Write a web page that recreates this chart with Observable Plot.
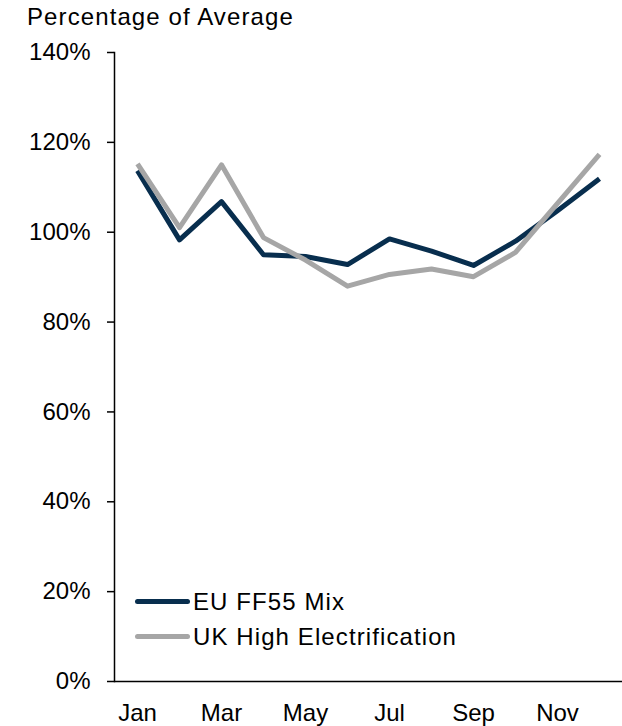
<!DOCTYPE html>
<html><head><meta charset="utf-8">
<script src="https://cdn.jsdelivr.net/npm/d3@7"></script>
<script src="https://cdn.jsdelivr.net/npm/@observablehq/plot@0.6"></script>
<style>
body{margin:0;background:#fff;font-family:"Liberation Sans",Arial,sans-serif;}
#wrap{position:relative;width:622px;height:726px;}
#title{position:absolute;left:27px;top:3px;font-size:24px;letter-spacing:1.1px;color:#000;}
#chart{position:absolute;left:0;top:36px;}
#legend{position:absolute;left:135px;top:584px;font-size:24px;letter-spacing:1.1px;color:#000;}
.row{display:flex;align-items:center;height:35px;}
.sw{width:55px;height:5px;border-radius:3px;margin-right:3px;}
</style></head>
<body><div id="wrap"><div id="title">Percentage of Average</div><div id="chart"></div><div id="legend"></div></div>
<script>
const months = ["Jan","Feb","Mar","Apr","May","Jun","Jul","Aug","Sep","Oct","Nov","Dec"];
const tickMonths = ["Jan","Mar","May","Jul","Sep","Nov"];
const yTicks = [0,20,40,60,80,100,120,140];
const seriesNames = ["EU FF55 Mix","UK High Electrification"];
const seriesColors = ["#082e4e","#a6a6a6"];
const euValues = [113.7,98.3,106.8,95.0,94.6,92.8,98.5,95.8,92.6,98.0,104.8,111.9];
const ukValues = [115.2,101.0,115.0,98.8,93.8,88.0,90.6,91.8,90.1,95.5,106.4,117.3];

const data = [];
months.forEach((m,i)=>{
  data.push({month:m, value:euValues[i], series:seriesNames[0]});
  data.push({month:m, value:ukValues[i], series:seriesNames[1]});
});

const chart = Plot.plot({
  width:622, height:690,
  marginLeft:114, marginRight:0, marginTop:16, marginBottom:45,
  style:{fontFamily:"'Liberation Sans', Arial, sans-serif", fontSize:"24px", color:"#000", background:"#fff"},
  x:{type:"point", domain:months, padding:0.5},
  y:{domain:[0,140]},
  color:{domain:seriesNames, range:seriesColors},
  marks:[
    Plot.frame({anchor:"left", stroke:"#000", strokeWidth:1.5}),
    Plot.ruleY([0], {stroke:"#000", strokeWidth:1.5}),
    Plot.axisY({ticks:yTicks, tickFormat:d=>d+"%", tickSize:7, tickPadding:17, label:null, fontSize:24, strokeWidth:1.5}),
    Plot.axisX({ticks:tickMonths, tickSize:0, tickPadding:22, label:null, fontSize:24}),
    Plot.line(data, {x:"month", y:"value", z:"series", stroke:"series", strokeWidth:5, strokeLinejoin:"round", strokeLinecap:"butt"})
  ]
});
document.getElementById("chart").appendChild(chart);

const lg = document.getElementById("legend");
seriesNames.forEach((n,i)=>{
  const r = document.createElement("div"); r.className="row";
  const s = document.createElement("div"); s.className="sw"; s.style.background=seriesColors[i];
  const t = document.createElement("span"); t.textContent=n;
  r.appendChild(s); r.appendChild(t); lg.appendChild(r);
});
</script></body></html>
